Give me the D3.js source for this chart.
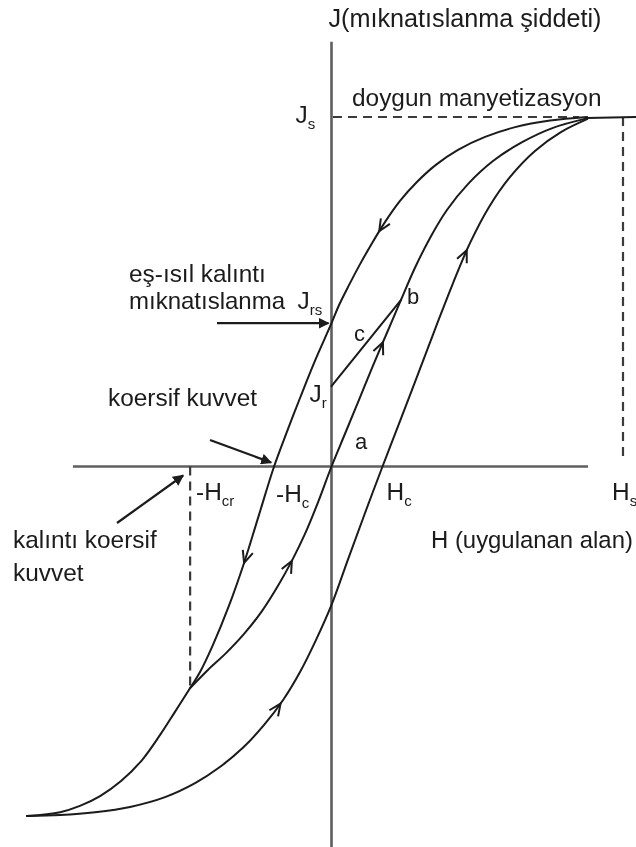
<!DOCTYPE html>
<html>
<head>
<meta charset="utf-8">
<script src="https://cdn.jsdelivr.net/npm/d3@7"></script>
<style>
  html, body { margin: 0; padding: 0; background: #fff; }
  svg { display: block; }
  text { font-family: "Liberation Sans", Arial, sans-serif; fill: #1a1a1a; }
</style>
</head>
<body>
<svg id="chart" width="636" height="847"></svg>
<script>
// Hysteresis loop: applied field H (arbitrary units, Hs = 10) vs magnetisation J (Js = 1)
const Hs = 10;
const Js = 1;
const Hc = 1.75;          // coercive field
const Hcr = -4.85;        // remanent coercive field (reversal point)
const Jrs = 0.41;         // isothermal remanent magnetisation
const Jr = 0.23;          // remanence after the minor return path

// Descending branch, from positive saturation down to negative saturation
const descBranch = [
  [8.77, 1.0], [7.50, 0.99], [6.30, 0.971], [5.27, 0.943], [4.34, 0.906],
  [3.58, 0.863], [2.93, 0.814], [2.35, 0.760], [1.84, 0.700], [1.39, 0.639],
  [0.98, 0.579], [0.60, 0.519], [0.26, 0.462], [0, 0.41], [-0.60, 0.296],
  [-1.08, 0.196], [-1.53, 0.099], [-1.97, 0], [-2.49, -0.139], [-3.00, -0.276],
  [-3.52, -0.399], [-4.07, -0.511], [-4.51, -0.588], [-4.85, -0.634],
  [-5.37, -0.702], [-5.88, -0.768], [-6.50, -0.840], [-7.22, -0.900],
  [-7.94, -0.943], [-8.63, -0.971], [-9.31, -0.989], [-10.45, -1.0]
];

// Ascending branch from the reversal point at -Hcr back up to saturation
const recoilBranch = [
  [-4.85, -0.634], [-4.24, -0.582], [-3.62, -0.534], [-3.00, -0.479],
  [-2.38, -0.413], [-1.84, -0.342], [-1.36, -0.270], [-0.91, -0.193],
  [-0.46, -0.102], [0, 0], [0.46, 0.093], [0.94, 0.190], [1.42, 0.288],
  [1.90, 0.382], [2.38, 0.476], [2.86, 0.568], [3.38, 0.654], [3.96, 0.734],
  [4.68, 0.808], [5.54, 0.874], [6.54, 0.928], [7.60, 0.969], [8.77, 0.996]
];

// Ascending branch of the major loop, from negative saturation
const ascBranch = [
  [-10.45, -1.0], [-9.31, -0.997], [-8.11, -0.989], [-6.91, -0.974],
  [-5.71, -0.946], [-4.68, -0.906], [-3.83, -0.860], [-3.04, -0.805],
  [-2.32, -0.740], [-1.66, -0.668], [-1.08, -0.588], [-0.53, -0.496],
  [0, -0.396], [0.57, -0.265], [1.15, -0.133], [1.75, 0], [2.35, 0.130],
  [2.97, 0.265], [3.58, 0.399], [4.17, 0.525], [4.75, 0.639], [5.40, 0.742],
  [6.12, 0.828], [6.98, 0.903], [7.87, 0.957], [8.77, 0.994]
];

// Minor return path c, from b down to Jr
const minorPath = [[2.38, 0.476], [0, Jr]];

// Saturation tail beyond the merge point
const satTail = [[8.77, 0.997], [10.45, 1.0]];

// Direction chevrons, anchored on points of each branch
const descArrows = [[1.70, 0.67], [-3.00, -0.276]];
const recoilArrows = [[-1.36, -0.270], [1.76, 0.355]];
const ascArrows = [[4.65, 0.62], [-1.75, -0.68]];

const svg = d3.select("#chart");
const x = d3.scaleLinear().domain([-Hs, Hs]).range([40, 623]);
const y = d3.scaleLinear().domain([-Js, Js]).range([816, 117]);

const line = d3.line()
  .x(d => x(d[0])).y(d => y(d[1]))
  .curve(d3.curveCatmullRom.alpha(0.5));

svg.append("defs").html(`
  <filter id="soft" x="-5%" y="-5%" width="110%" height="110%">
    <feGaussianBlur stdDeviation="0.45"/>
  </filter>
  <marker id="tri" viewBox="0 0 10 10" refX="9" refY="5" markerWidth="5" markerHeight="5" orient="auto">
    <path d="M0,0 L10,5 L0,10 z" fill="#1a1a1a"/>
  </marker>`);
const g = svg.append("g").attr("filter", "url(#soft)");

// Axes
g.append("line")
  .attr("x1", x(-8.87)).attr("x2", x(8.80))
  .attr("y1", y(0)).attr("y2", y(0))
  .attr("stroke", "#5e5e5e").attr("stroke-width", 2.6);
g.append("line")
  .attr("x1", x(0)).attr("x2", x(0))
  .attr("y1", y(1.215)).attr("y2", y(-1.09))
  .attr("stroke", "#5e5e5e").attr("stroke-width", 2.6);

// Dashed guides
const dash = (pts) => g.append("path")
  .attr("d", d3.line().x(d => x(d[0])).y(d => y(d[1]))(pts))
  .attr("fill", "none").attr("stroke", "#3a3a3a")
  .attr("stroke-width", 2.2).attr("stroke-dasharray", "9,6");
dash([[0.05, Js], [8.5, Js]]);
dash([[Hs, Js], [Hs, 0.03]]);
dash([[Hcr, 0], [Hcr, -0.634]]);

// Curves
const curves = [
  { pts: descBranch, arrows: descArrows },
  { pts: recoilBranch, arrows: recoilArrows },
  { pts: ascBranch, arrows: ascArrows },
  { pts: minorPath, arrows: [] },
  { pts: satTail, arrows: [] }
];

curves.forEach(c => {
  const p = g.append("path")
    .attr("d", line(c.pts))
    .attr("fill", "none").attr("stroke", "#1a1a1a")
    .attr("stroke-width", 2).attr("stroke-linecap", "round");
  const node = p.node();
  const total = node.getTotalLength();
  c.arrows.forEach(a => {
    const tx = x(a[0]), ty = y(a[1]);
    // nearest point on the path to the anchor
    let best = 0, bestD = Infinity;
    for (let l = 0; l <= total; l += 1) {
      const q = node.getPointAtLength(l);
      const d = (q.x - tx) ** 2 + (q.y - ty) ** 2;
      if (d < bestD) { bestD = d; best = l; }
    }
    const p0 = node.getPointAtLength(Math.max(0, best - 3));
    const p1 = node.getPointAtLength(Math.min(total, best + 3));
    const ang = Math.atan2(p1.y - p0.y, p1.x - p0.x);
    const tip = node.getPointAtLength(best);
    const len = 13, spread = 0.42;
    const wing = s => [tip.x - len * Math.cos(ang + s), tip.y - len * Math.sin(ang + s)];
    const w1 = wing(spread), w2 = wing(-spread);
    g.append("path")
      .attr("d", `M${w1[0]},${w1[1]} L${tip.x},${tip.y} L${w2[0]},${w2[1]}`)
      .attr("fill", "none").attr("stroke", "#1a1a1a")
      .attr("stroke-width", 2).attr("stroke-linejoin", "miter");
  });
});

// Annotation arrows
const pointer = (x1, y1, x2, y2) => g.append("line")
  .attr("x1", x1).attr("y1", y1).attr("x2", x2).attr("y2", y2)
  .attr("stroke", "#1a1a1a").attr("stroke-width", 2.2)
  .attr("marker-end", "url(#tri)");
pointer(217, y(Jrs), x(0) - 3, y(Jrs));
pointer(210, 440, x(-1.97) - 3, y(0) - 4);
pointer(117, 523, x(Hcr) - 7, y(0) + 9);

// Labels
const FS = 24.4, SUB = 15;
const label = (tx, ty, main, sub, size) => {
  const t = g.append("text").attr("x", tx).attr("y", ty)
    .attr("font-size", size || FS).text(main);
  if (sub) t.append("tspan").attr("font-size", SUB).attr("dy", 6).text(sub);
  return t;
};

label(x(0) - 3, 27, "J(mıknatıslanma şiddeti)", null, 25.2);
label(352, 106, "doygun manyetizasyon");
label(x(0) - 36, y(Js) + 6, "J", "s");
label(129, 282, "eş-ısıl kalıntı");
label(129, 309, "mıknatıslanma", null, 24);
label(x(0) - 34, y(Jrs) - 14, "J", "rs");
label(108, 406, "koersif kuvvet");
label(x(0) - 22, y(Jr) + 16, "J", "r");
label(354, 341, "c", null, 22);
label(407, 304, "b", null, 22);
label(355, 449, "a", null, 22);
label(x(Hcr) + 6, y(0) + 33, "-H", "cr");
label(x(-1.97) + 2, y(0) + 35, "-H", "c");
label(x(Hc) + 4, y(0) + 33, "H", "c");
label(x(Hs) - 11, y(0) + 33, "H", "s");
label(431, 548, "H (uygulanan alan)", null, 23.9);
label(13, 548, "kalıntı koersif");
label(13, 581, "kuvvet");
</script>
</body>
</html>
